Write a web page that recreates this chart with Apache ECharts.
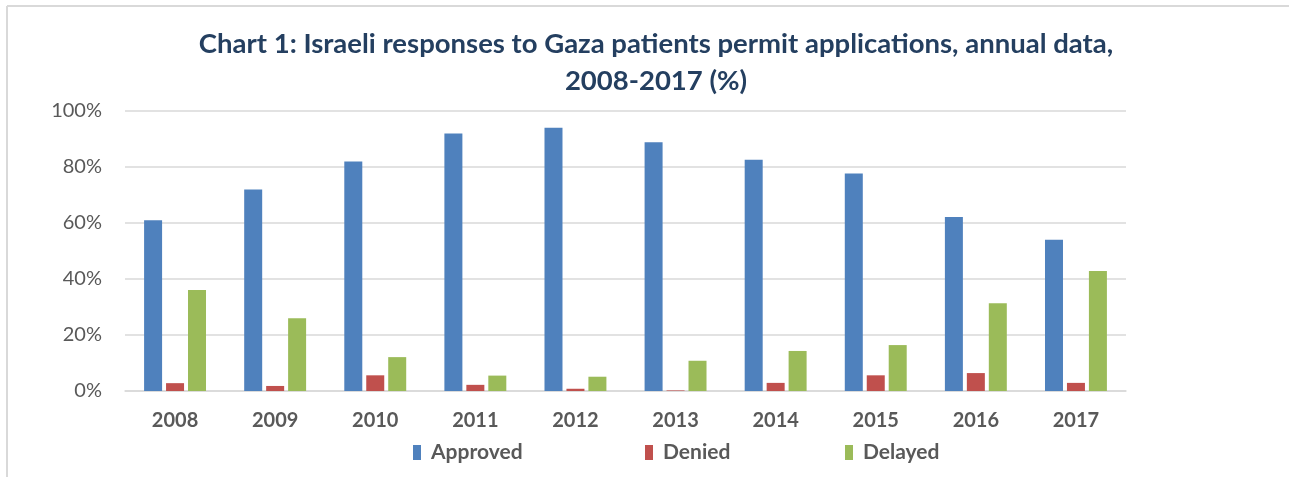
<!DOCTYPE html>
<html>
<head>
<meta charset="utf-8">
<script src="https://cdn.jsdelivr.net/npm/echarts@6/dist/echarts.min.js"></script>
<style>
html,body{margin:0;padding:0;background:#fff;}
#c{width:1289px;height:477px;}
</style>
</head>
<body>
<div id="c"></div>
<script>
const categories = ['2008','2009','2010','2011','2012','2013','2014','2015','2016','2017'];
const approved = [61, 72, 82, 92, 94, 88.8, 82.6, 77.7, 62.1, 54];
const denied   = [2.8, 1.8, 5.6, 2.2, 0.8, 0.2, 2.9, 5.6, 6.4, 2.9];
const delayed  = [36.1, 26, 12.1, 5.5, 5.1, 10.8, 14.3, 16.4, 31.3, 42.9];
const yTicks = [0, 20, 40, 60, 80, 100];
const titleText = 'Chart 1: Israeli responses to Gaza patients permit applications, annual data,\n2008-2017 (%)';

const FONT = 'Lato';
const chart = echarts.init(document.getElementById('c'), null, {renderer: 'canvas'});
const legendBase = {
  top: 437, itemWidth: 8, itemHeight: 15, icon: 'rect',
  textStyle: {fontFamily: FONT, fontWeight: 'bold', fontSize: 21, color: '#595959', padding: [0,0,0,5]}
};
chart.setOption({
  animation: false,
  backgroundColor: '#fff',
  title: {
    text: titleText,
    left: 651, top: 21, textAlign: 'center',
    textStyle: {fontFamily: FONT, fontWeight: 'bold', fontSize: 27.5, lineHeight: 37, color: '#243F60'}
  },
  legend: [
    Object.assign({left: 408, data: ['Approved']}, legendBase),
    Object.assign({left: 640, data: ['Denied']}, legendBase),
    Object.assign({left: 840, data: ['Delayed']}, legendBase)
  ],
  grid: {left: 125, right: 163, top: 111, bottom: 86, containLabel: false},
  xAxis: {
    type: 'category', data: categories,
    axisLine: {lineStyle: {color: '#d9d9d9', width: 1.5}},
    axisTick: {show: false},
    axisLabel: {fontFamily: FONT, fontWeight: 'bold', fontSize: 20, color: '#595959', margin: 20}
  },
  yAxis: {
    type: 'value', min: yTicks[0], max: yTicks[yTicks.length-1], interval: 20,
    axisLine: {show: false}, axisTick: {show: false},
    splitLine: {lineStyle: {color: '#d9d9d9', width: 1.5}},
    axisLabel: {fontFamily: FONT, fontSize: 20, color: '#595959', margin: 23, formatter: '{value}%'}
  },
  series: [
    {name: 'Approved', type: 'bar', data: approved, barWidth: 18, barGap: '22%', itemStyle: {color: '#4F81BD'}},
    {name: 'Denied', type: 'bar', data: denied, barWidth: 18, barGap: '22%', itemStyle: {color: '#C0504D'}},
    {name: 'Delayed', type: 'bar', data: delayed, barWidth: 18, barGap: '22%', itemStyle: {color: '#9BBB59'}}
  ],
  graphic: [
    {type: 'line', shape: {x1: 7, y1: 6, x2: 1289, y2: 6}, style: {stroke: '#d9d9d9', lineWidth: 2}, silent: true},
    {type: 'line', shape: {x1: 7, y1: 6, x2: 7, y2: 477}, style: {stroke: '#d9d9d9', lineWidth: 2}, silent: true}
  ]
});
</script>
</body>
</html>
